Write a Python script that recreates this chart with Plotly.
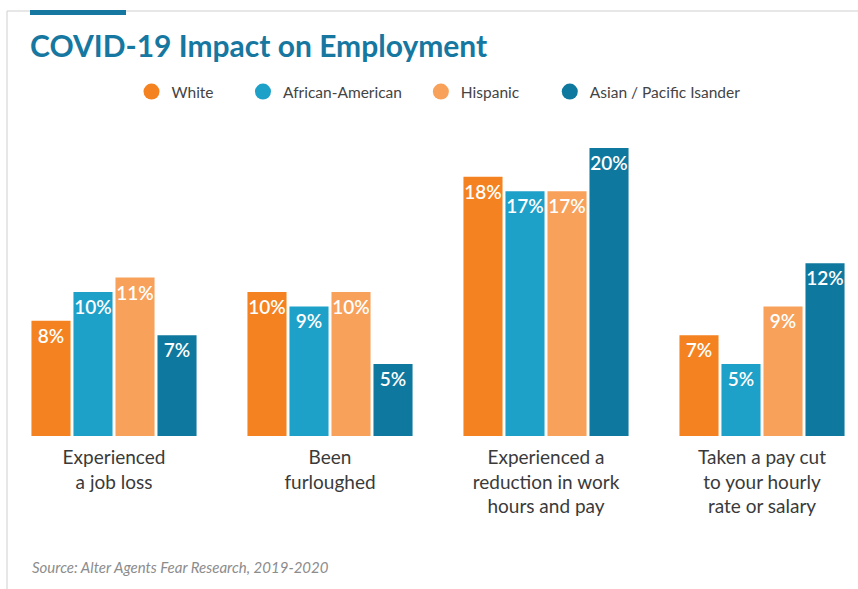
import plotly.graph_objects as go

# Survey responses (% of respondents) by outcome and ethnicity
categories = [
    "Experienced<br>a job loss",
    "Been<br>furloughed",
    "Experienced a<br>reduction in work<br>hours and pay",
    "Taken a pay cut<br>to your hourly<br>rate or salary",
]
series_names = ["White", "African-American", "Hispanic", "Asian / Pacific Isander"]
white = [8, 10, 18, 7]
african_american = [10, 9, 17, 5]
hispanic = [11, 10, 17, 9]
asian_pacific = [7, 5, 20, 12]

series_values = [white, african_american, hispanic, asian_pacific]
colors = ["#F58220", "#1EA1C8", "#F8A15B", "#0F789E"]
legend_ids = ["legend", "legend2", "legend3", "legend4"]
legend_x = [0.1244, 0.261, 0.479, 0.637]

W, H = 858, 589
M_L, M_R, M_T, M_B = 30, 12, 120, 153
plot_w = W - M_L - M_R
plot_h = H - M_T - M_B


def px_x(p):
    return (p - M_L) / plot_w


def px_y(p):
    return (H - M_B - p) / plot_h


fig = go.Figure()

for name, vals, col in zip(series_names, series_values, colors):
    fig.add_trace(go.Bar(
        x=categories, y=vals, name=name, marker_color=col,
        marker_line_width=0,
        texttemplate="%{y}%", textposition="inside", insidetextanchor="end",
        textangle=0, constraintext="none",
        textfont=dict(family="Lato", size=19, color="white", weight=600),
        showlegend=False, hoverinfo="skip",
    ))

# legend entries drawn as round swatches, one legend per series
for name, col, lid in zip(series_names, colors, legend_ids):
    fig.add_trace(go.Scatter(
        x=[None], y=[None], mode="markers", name=name,
        marker=dict(symbol="circle", size=18, color=col),
        legend=lid, showlegend=True,
    ))

legend_common = dict(
    orientation="h", yanchor="middle", y=px_y(92), xanchor="left",
    font=dict(family="Lato", size=15.5, color="#444444"),
    bgcolor="rgba(0,0,0,0)", borderwidth=0,
)
layout_legends = {}
for lid, lx in zip(legend_ids, legend_x):
    layout_legends[lid] = dict(legend_common, x=lx)

fig.update_layout(
    width=W, height=H,
    margin=dict(l=M_L, r=M_R, t=M_T, b=M_B, pad=0),
    paper_bgcolor="white", plot_bgcolor="white",
    barmode="group", bargap=0.222, bargroupgap=0.07,
    title=dict(
        text="COVID-19 Impact on Employment",
        font=dict(family="Lato", size=30, color="#1677A0", weight="bold"),
        x=0, xref="paper", xanchor="left",
        y=(H - 46) / H, yref="container", yanchor="middle",
    ),
    xaxis=dict(
        range=[-0.5 + 24 / 216, 3.5 - 24 / 216],
        showgrid=False, showline=False, zeroline=False,
        ticks="outside", ticklen=4, tickcolor="rgba(0,0,0,0)",
        tickfont=dict(family="Lato", size=19, color="#3a3a3a"),
        fixedrange=True,
    ),
    yaxis=dict(
        range=[0, plot_h / 14.4], visible=False, showgrid=False,
        fixedrange=True,
    ),
    shapes=[
        # light frame along the top and left edges
        dict(type="line", xref="paper", yref="paper",
             x0=px_x(7), x1=px_x(W), y0=px_y(11), y1=px_y(11),
             line=dict(color="#CFCFCF", width=1)),
        dict(type="line", xref="paper", yref="paper",
             x0=px_x(7), x1=px_x(7), y0=px_y(11), y1=px_y(H),
             line=dict(color="#CFCFCF", width=1)),
        # accent strip above the title
        dict(type="rect", xref="paper", yref="paper",
             x0=px_x(30), x1=px_x(126), y0=px_y(15), y1=px_y(10),
             fillcolor="#1677A0", line=dict(width=0)),
    ],
    annotations=[
        dict(text="<i>Source: Alter Agents Fear Research, 2019-2020</i>",
             xref="paper", yref="paper", x=0, y=px_y(567),
             xanchor="left", yanchor="middle", showarrow=False,
             font=dict(family="Lato", size=15, color="#8C8C8C")),
    ],
    **layout_legends,
)

fig.write_html("out.html")
